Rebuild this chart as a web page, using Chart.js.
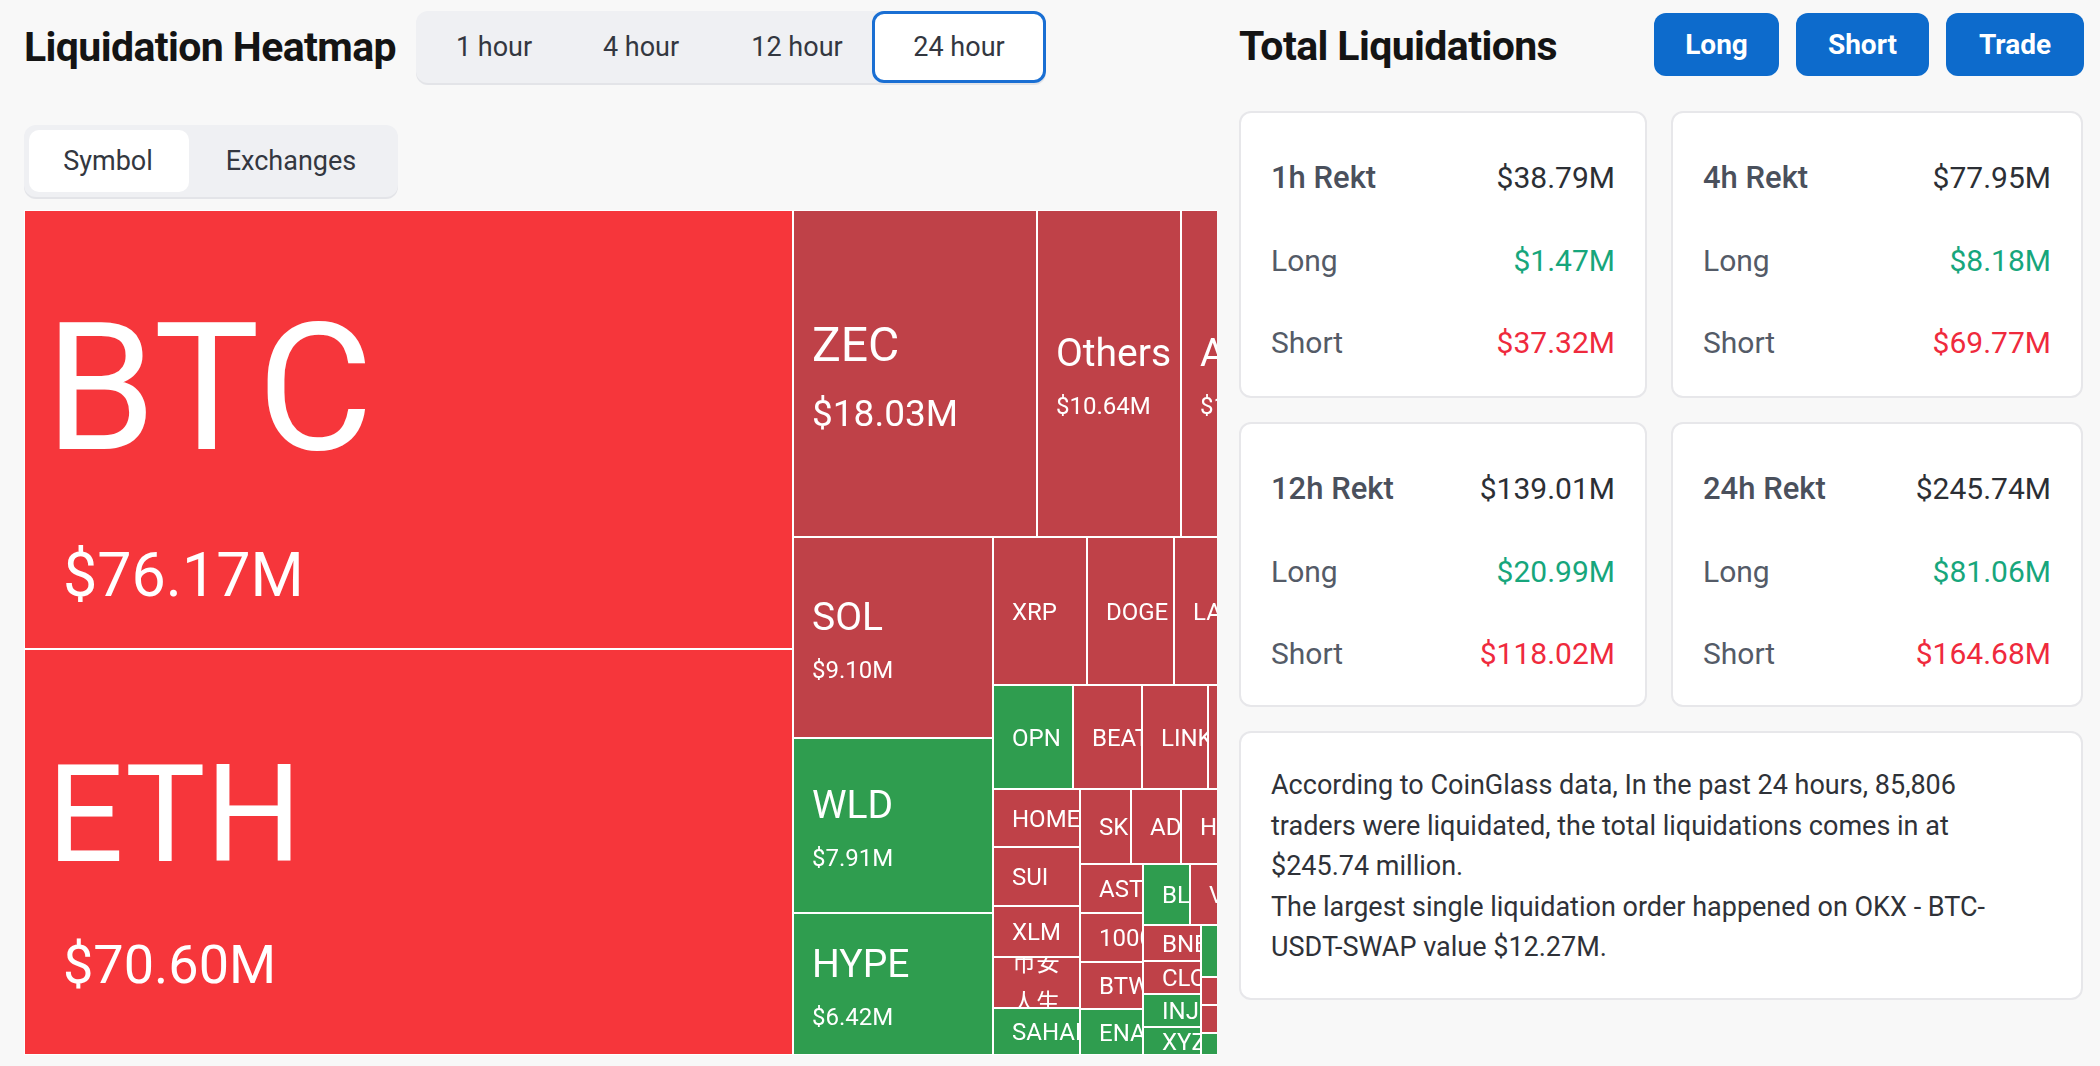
<!DOCTYPE html>
<html>
<head>
<meta charset="utf-8">
<script src="https://cdn.jsdelivr.net/npm/chart.js@4.4.1/dist/chart.umd.min.js"></script>
<style>
html,body{margin:0;padding:0;background:#f8f8f8;width:2100px;height:1066px;overflow:hidden;font-family:Roboto,"Noto Sans","Noto Sans CJK SC",sans-serif;}
.abs{position:absolute;}
.h1{font-weight:700;font-size:41px;color:#141414;letter-spacing:-0.6px;white-space:nowrap;}
.seg{background:#eff0f3;border-radius:12px;box-shadow:0 2px 0 #e3e4e8;}
.segact{background:#fff;border-radius:12px;box-sizing:border-box;}
.tab{width:160px;text-align:center;font-size:27px;color:#333740;height:72px;line-height:72px;}
.btn{background:#0d6bcc;color:#fff;border-radius:12px;font-weight:700;font-size:28px;text-align:center;height:63px;line-height:63px;}
.card{background:#fff;border:2px solid #e7e7ea;border-radius:12px;box-sizing:border-box;}
.row{position:absolute;left:30px;right:30px;height:40px;line-height:40px;font-size:30px;}
.row .l{position:absolute;left:0;color:#545b67;}
.row .r{position:absolute;right:0;color:#2c2f35;}
.row.head .l{font-weight:500;color:#4a505c;font-size:31px;}
.g{color:#17a67c !important;}
.red{color:#ef2a3d !important;}
.para{position:absolute;left:30px;top:32px;font-size:27px;line-height:40.5px;color:#2f3238;white-space:nowrap;}
#heat{position:absolute;left:24px;top:210px;width:1193px;height:845px;overflow:hidden;}
</style>
</head>
<body>
<div class="abs h1" style="left:24px;top:22px;height:50px;line-height:50px;">Liquidation Heatmap</div>

<div class="abs seg" style="left:416px;top:11px;width:630px;height:72px;"></div>
<div class="abs segact" style="left:872px;top:11px;width:174px;height:72px;border:3px solid #1a6fd3;"></div>
<div class="abs tab" style="left:414px;top:11px;">1 hour</div>
<div class="abs tab" style="left:561px;top:11px;">4 hour</div>
<div class="abs tab" style="left:717px;top:11px;">12 hour</div>
<div class="abs tab" style="left:879px;top:11px;">24 hour</div>

<div class="abs seg" style="left:24px;top:125px;width:374px;height:72px;"></div>
<div class="abs segact" style="left:29px;top:130px;width:160px;height:62px;border-radius:10px;"></div>
<div class="abs tab" style="left:28px;top:125px;">Symbol</div>
<div class="abs tab" style="left:211px;top:125px;">Exchanges</div>

<div id="heat"><canvas id="c" width="1292" height="845"></canvas></div>

<div class="abs h1" style="left:1239px;top:21px;height:50px;line-height:50px;">Total Liquidations</div>
<div class="abs btn" style="left:1654px;top:13px;width:125px;">Long</div>
<div class="abs btn" style="left:1796px;top:13px;width:133px;">Short</div>
<div class="abs btn" style="left:1946px;top:13px;width:138px;">Trade</div>

<div id="cards"></div>

<div class="abs card" style="left:1239px;top:731px;width:844px;height:269px;">
<div class="para">According to CoinGlass data, In the past 24 hours, 85,806<br>traders were liquidated, the total liquidations comes in at<br>$245.74 million.<br>The largest single liquidation order happened on OKX - BTC-<br>USDT-SWAP value $12.27M.</div>
</div>

<script>
// ---------------- data ----------------
// Heatmap cells in reading order (symbol, liquidation in $M, dominant side).
// Empty names are cells whose label is not visible (they lie at / past the clipped right edge).
const symbols = ['BTC','ETH','ZEC','Others','A','SOL','WLD','HYPE','XRP','DOGE','LA','OPN','BEAT','LINK','',
  'HOME','SUI','XLM','币安人生','SAHARA','SK','AD','H','','AST','1000','BTW','ENA','BL','V','','',
  'BNB','CLO','INJ','XYZ','','','','','',''];
const liqValues = [76.17,70.60,18.03,10.64,10.00,9.10,7.91,6.42,3.13,2.92,4.75,1.87,1.61,1.56,2.52,
  1.14,1.14,1.01,1.00,0.91,0.88,0.85,1.15,1.145,0.71,0.70,0.68,0.67,0.64,0.60,0.58,0.57,
  0.47,0.43,0.42,0.37,0.66,0.67,0.19,0.19,0.15,1.50];
const tones = ['hot','hot','short','short','short','short','long','long','short','short','short','long','short','short','short',
  'short','short','short','short','long','short','short','short','short','short','short','short','long','long','short','short','short',
  'short','short','long','long','long','short','short','short','long','short'];

// Summary cards
const periods = ['1h Rekt','4h Rekt','12h Rekt','24h Rekt'];
const totalRekt = ['$38.79M','$77.95M','$139.01M','$245.74M'];
const longRekt = ['$1.47M','$8.18M','$20.99M','$81.06M'];
const shortRekt = ['$37.32M','$69.77M','$118.02M','$164.68M'];

// ---------------- cards ----------------
(function(){
  const pos = [[1239,111],[1671,111],[1239,422],[1671,422]];
  const wid = [408,412,408,412];
  let html = '';
  periods.forEach((p,i)=>{
    html += `<div class="abs card" style="left:${pos[i][0]}px;top:${pos[i][1]}px;width:${wid[i]}px;height:${i<2?287:285}px;">`+
      `<div class="row head" style="top:45px"><span class="l">${p}</span><span class="r">${totalRekt[i]}</span></div>`+
      `<div class="row" style="top:128px"><span class="l">Long</span><span class="r g">${longRekt[i]}</span></div>`+
      `<div class="row" style="top:210px"><span class="l">Short</span><span class="r red">${shortRekt[i]}</span></div></div>`;
  });
  document.getElementById('cards').innerHTML = html;
})();

// ---------------- treemap controller ----------------
const PHI = (1 + Math.sqrt(5)) / 2;
const TONE_COLOR = {hot:'#f6363b', short:'#bf4148', long:'#2f9d4f'};
const TIERS = [
  {min:75, name:178, value:61, gap:104, off:29.5, padN:21, padV:39},
  {min:50, name:135, value:54, gap:83, off:22, padN:23, padV:39},
  {min:15, name:48, value:37, gap:39, off:3, padN:19, padV:19},
  {min:5,  name:39, value:24, gap:31, off:3, padN:19, padV:19},
  {min:0,  name:24, value:0, gap:0, off:0, padN:19, padV:19}
];
const FONT = 'Roboto, "Noto Sans CJK SC", sans-serif';

function squarify(values, rect) {
  const total = values.reduce((a,b)=>a+b,0);
  const k = rect.w * rect.h / total;
  const areas = values.map(v => v * k);
  const out = new Array(values.length);
  const r = {x:rect.x, y:rect.y, w:rect.w, h:rect.h};
  function worst(row, area, L) {
    let amax = 0, amin = Infinity;
    row.forEach(i => { amax = Math.max(amax, areas[i]); amin = Math.min(amin, areas[i]); });
    const f = L * L * PHI, s2 = area * area;
    return Math.max(f * amax / s2, s2 / (f * amin));
  }
  function place(row, area, flush) {
    const alongX = r.w <= r.h;
    const L = alongX ? r.w : r.h;
    let t = area / L;
    const other = alongX ? r.h : r.w;
    if (flush || t > other) t = other;
    let p = alongX ? r.x : r.y;
    const end = alongX ? r.x + r.w : r.y + r.h;
    row.forEach((idx, j) => {
      const len = j === row.length - 1 ? end - p : areas[idx] / t;
      out[idx] = alongX ? {x:p, y:r.y, w:len, h:t} : {x:r.x, y:p, w:t, h:len};
      p += len;
    });
    if (alongX) { r.y += t; r.h -= t; } else { r.x += t; r.w -= t; }
  }
  let row = [], area = 0, best = Infinity, i = 0;
  while (i < values.length) {
    const L = Math.min(r.w, r.h);
    row.push(i); area += areas[i];
    const s = worst(row, area, L);
    if (s <= best) { best = s; i++; }
    else {
      row.pop(); area -= areas[i];
      place(row, area, false);
      row = []; area = 0; best = Infinity;
    }
  }
  if (row.length) place(row, area, true);
  return out;
}

class CellElement extends Chart.Element {
  static id = 'cell';
  static defaults = {};
  draw(ctx) {
    const o = this.options;
    const x0 = Math.round(this.x), y0 = Math.round(this.y);
    const x1 = Math.round(this.x + this.width), y1 = Math.round(this.y + this.height);
    const b = o.borderWidth;
    const w = x1 - x0, h = y1 - y0;
    ctx.save();
    ctx.fillStyle = o.borderColor;
    ctx.fillRect(x0, y0, w, h);
    ctx.fillStyle = o.backgroundColor;
    ctx.fillRect(x0 + b, y0 + b, w - 2*b, h - 2*b);
    if (this.name) {
      ctx.beginPath(); ctx.rect(x0 + b, y0 + b, w - 2*b, h - 2*b); ctx.clip();
      ctx.fillStyle = '#ffffff';
      ctx.textBaseline = 'alphabetic';
      ctx.textAlign = 'left';
      const st = TIERS.find(t => this.value >= t.min);
      const cy = y0 + h / 2;
      const cN = st.name * 0.711;
      if (st.value) {
        const cV = st.value * 0.711;
        const B = cN + st.gap + cV;
        const top = cy + st.off - B / 2;
        ctx.font = `${st.name}px ${FONT}`;
        ctx.fillText(this.name, x0 + st.padN, top + cN);
        ctx.font = `${st.value}px ${FONT}`;
        ctx.fillText(this.valueText, x0 + st.padV, top + B);
      } else {
        ctx.font = `${st.name}px ${FONT}`;
        let lines = [this.name];
        if (/[\u3400-\u9fff]/.test(this.name)) {
          const avail = w - 2 * st.padN;
          lines = []; let cur = '';
          for (const ch of this.name) {
            if (cur && ctx.measureText(cur + ch).width > avail) { lines.push(cur); cur = ch; }
            else cur += ch;
          }
          if (cur) lines.push(cur);
        }
        const lh = st.name * 1.7;
        let base = cy - (lines.length - 1) * lh / 2 + cN / 2;
        lines.forEach(l => { ctx.fillText(l, x0 + st.padN, base); base += lh; });
      }
    }
    ctx.restore();
  }
  inRange(mx, my) { return mx >= this.x && mx <= this.x + this.width && my >= this.y && my <= this.y + this.height; }
  inXRange(mx) { return mx >= this.x && mx <= this.x + this.width; }
  inYRange(my) { return my >= this.y && my <= this.y + this.height; }
  getCenterPoint() { return {x: this.x + this.width / 2, y: this.y + this.height / 2}; }
  tooltipPosition() { return this.getCenterPoint(); }
}

class TreemapController extends Chart.DatasetController {
  static id = 'treemap';
  static defaults = { datasetElementType: false, dataElementType: 'cell' };
  static overrides = { scales: { x: {type:'linear'}, y: {type:'linear'} } };
  parse(start, count) {
    const data = this.getDataset().data;
    const parsed = this._cachedMeta._parsed;
    for (let i = start; i < start + count; i++) parsed[i] = {x: i, y: +data[i]};
  }
  update(mode) {
    const meta = this._cachedMeta;
    this.updateElements(meta.data, 0, meta.data.length, mode);
  }
  updateElements(elems, start, count) {
    const meta = this._cachedMeta, ds = this.getDataset();
    const xs = meta.xScale, ys = meta.yScale;
    const rects = squarify(ds.data, {x: xs.min, y: ys.min, w: xs.max - xs.min, h: ys.max - ys.min});
    for (let i = start; i < start + count; i++) {
      const r = rects[i];
      const px0 = xs.getPixelForValue(r.x), px1 = xs.getPixelForValue(r.x + r.w);
      const py0 = ys.getPixelForValue(r.y), py1 = ys.getPixelForValue(r.y + r.h);
      this.updateElement(elems[i], i, {
        x: Math.min(px0, px1), y: Math.min(py0, py1),
        width: Math.abs(px1 - px0), height: Math.abs(py1 - py0),
        name: ds.names[i], value: ds.data[i],
        valueText: '$' + ds.data[i].toFixed(2) + 'M',
        options: {backgroundColor: TONE_COLOR[ds.tones[i]], borderColor: '#ffffff', borderWidth: 1}
      }, 'none');
    }
  }
}

Chart.register(TreemapController, CellElement);

const cv = document.getElementById('c');
new Chart(cv, {
  type: 'treemap',
  data: { datasets: [{ data: liqValues, names: symbols, tones: tones }] },
  options: {
    responsive: false, animation: false, events: [],
    layout: { padding: 0 },
    scales: {
      x: { type: 'linear', min: 0, max: cv.width, display: false },
      y: { type: 'linear', min: 0, max: cv.height, reverse: true, display: false }
    },
    plugins: { legend: { display: false }, tooltip: { enabled: false } }
  }
});
</script>
</body>
</html>
